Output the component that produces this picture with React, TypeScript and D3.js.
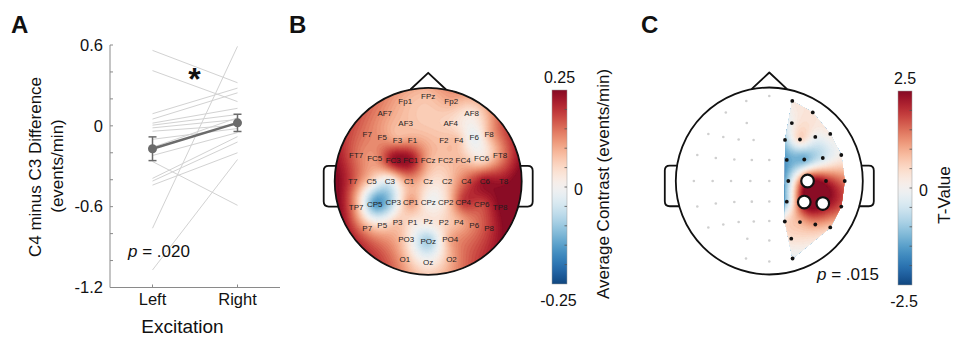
import React, { useMemo } from 'react';
import * as d3 from 'd3';

// ---------- Panel A data ----------
const conditions = ['Left', 'Right'];
const subjectLeft = [0.56, 0.41, 0.09, 0.05, 0.02, 0.005, -0.015, -0.04, -0.10, -0.16, -0.22, -0.265, -0.39, -0.41, -0.44, -0.76, -1.07];
const subjectRight = [0.32, 0.18, 0.28, 0.245, 0.13, 0.084, 0.047, 0.005, -0.02, 0.06, -0.05, -0.59, -0.08, -0.12, -0.2, 0.59, -0.25];
const groupMean = [-0.17, 0.022];
const groupSem = [0.088, 0.064];
const yTickValues = [0.6, 0, -0.6, -1.2];
const yTickLabels = ['0.6', '0', '-0.6', '-1.2'];

// ---------- Electrode layout (head units, radius = 1) ----------
const electrodes = [
  'Fp1', 'FPz', 'Fp2',
  'AF7', 'AF3', 'AF4', 'AF8',
  'F7', 'F5', 'F3', 'F1', 'F2', 'F4', 'F6', 'F8',
  'FT7', 'FC5', 'FC3', 'FC1', 'FCz', 'FC2', 'FC4', 'FC6', 'FT8',
  'T7', 'C5', 'C3', 'C1', 'Cz', 'C2', 'C4', 'C6', 'T8',
  'TP7', 'CP5', 'CP3', 'CP1', 'CPz', 'CP2', 'CP4', 'CP6', 'TP8',
  'P7', 'P5', 'P3', 'P1', 'Pz', 'P2', 'P4', 'P6', 'P8',
  'PO3', 'POz', 'PO4',
  'O1', 'Oz', 'O2',
];
const elecX = [
  -0.246, 0, 0.246,
  -0.465, -0.241, 0.241, 0.465,
  -0.652, -0.492, -0.328, -0.168, 0.168, 0.328, 0.492, 0.652,
  -0.770, -0.572, -0.374, -0.187, 0, 0.187, 0.374, 0.572, 0.770,
  -0.807, -0.606, -0.409, -0.203, 0, 0.203, 0.409, 0.606, 0.807,
  -0.770, -0.572, -0.374, -0.187, 0, 0.187, 0.374, 0.572, 0.770,
  -0.652, -0.492, -0.328, -0.166, 0, 0.166, 0.328, 0.492, 0.652,
  -0.235, 0, 0.235,
  -0.249, 0, 0.249,
];
const elecY = [
  -0.856, -0.909, -0.856,
  -0.733, -0.620, -0.620, -0.733,
  -0.503, -0.471, -0.444, -0.439, -0.439, -0.444, -0.471, -0.503,
  -0.278, -0.246, -0.230, -0.225, -0.225, -0.225, -0.230, -0.246, -0.278,
  0, 0, 0, 0, 0, 0, 0, 0, 0,
  0.273, 0.241, 0.225, 0.221, 0.219, 0.221, 0.225, 0.241, 0.273,
  0.497, 0.465, 0.439, 0.433, 0.428, 0.433, 0.439, 0.465, 0.497,
  0.617, 0.636, 0.617,
  0.829, 0.861, 0.829,
];

// ---------- Panel B data: average contrast (events/min) ----------
const contrastValues = [
  0.09, 0.08, 0.10,
  0.12, 0.08, 0.05, 0.03,
  0.14, 0.12, 0.10, 0.11, 0.08, 0.07, -0.02, 0.09,
  0.15, 0.12, 0.23, 0.23, 0.10, 0.08, 0.08, 0.03, 0.12,
  0.17, 0.05, -0.02, 0.11, 0.05, 0.06, 0.16, 0.23, 0.23,
  0.10, -0.15, -0.06, 0.11, 0.0, 0.04, 0.19, 0.18, 0.25,
  0.10, 0.04, 0.07, 0.03, 0.03, 0.05, 0.09, 0.14, 0.19,
  0.05, -0.09, 0.10,
  0.09, 0.01, 0.10,
];
const contrastRange = [-0.25, 0.25];
const contrastTickLabels = ['-0.25', '0', '0.25'];

// ---------- Panel C data: T-values, right hemisphere ----------
const tElectrodes = [
  'Fp2', 'AF4', 'AF8',
  'F2', 'F4', 'F6', 'F8',
  'FC2', 'FC4', 'FC6', 'FT8',
  'C2', 'C4', 'C6', 'T8',
  'CP2', 'CP4', 'CP6', 'TP8',
  'P2', 'P4', 'P6', 'P8',
  'PO4', 'O2',
];
const tValues = [
  0.2, 0.0, 0.3,
  -0.9, 0.5, -0.1, 0.2,
  -1.5, -1.3, -0.5, 0.1,
  -0.9, 2.3, 2.1, 1.4,
  -0.9, 2.5, 2.5, 1.7,
  0.4, 0.9, 1.1, 0.7,
  0.4, -0.2,
];
const sigElectrodes = ['C4', 'CP4', 'CP6'];
const tRange = [-2.5, 2.5];
const tTickLabels = ['-2.5', '0', '2.5'];

const FONT = "'Liberation Sans', Arial, Helvetica, sans-serif";

// color: t in [-1,1]
const rdbu = (t: number) => d3.interpolateRdBu(0.5 - 0.46 * Math.max(-1, Math.min(1, t)));

function solveLinear(A: number[][], b: number[]): number[] {
  const n = b.length;
  const M = A.map((r, i) => [...r, b[i]]);
  for (let c = 0; c < n; c++) {
    let p = c;
    for (let r = c + 1; r < n; r++) if (Math.abs(M[r][c]) > Math.abs(M[p][c])) p = r;
    const tmp = M[c]; M[c] = M[p]; M[p] = tmp;
    for (let r = c + 1; r < n; r++) {
      const f = M[r][c] / M[c][c];
      if (f === 0) continue;
      for (let k = c; k <= n; k++) M[r][k] -= f * M[c][k];
    }
  }
  const x = new Array(n).fill(0);
  for (let r = n - 1; r >= 0; r--) {
    let s = M[r][n];
    for (let k = r + 1; k < n; k++) s -= M[r][k] * x[k];
    x[r] = s / M[r][r];
  }
  return x;
}

// MATLAB 'v4' biharmonic spline interpolation
function makeV4(xs: number[], ys: number[], vs: number[]) {
  const g = (d: number) => (d === 0 ? 0 : d * d * (Math.log(d) - 1));
  const n = xs.length;
  const A: number[][] = [];
  for (let i = 0; i < n; i++) {
    const row: number[] = [];
    for (let j = 0; j < n; j++) row.push(g(Math.hypot(xs[i] - xs[j], ys[i] - ys[j])));
    A.push(row);
  }
  const w = solveLinear(A, vs);
  return (x: number, y: number) => {
    let s = 0;
    for (let j = 0; j < n; j++) s += w[j] * g(Math.hypot(x - xs[j], y - ys[j]));
    return s;
  };
}

function earPath(cx: number, cy: number, R: number, s: number) {
  const a0 = -0.165, a1 = 0.27;
  const y0 = cy + a0 * R, y1 = cy + a1 * R;
  const xin0 = cx + s * R * Math.sqrt(1 - a0 * a0) - s * 0.5;
  const xin1 = cx + s * R * Math.sqrt(1 - a1 * a1) - s * 0.5;
  const xout = cx + s * (R + 11);
  const r = 5;
  return `M${xin0},${y0} L${xout - s * r},${y0} Q${xout},${y0} ${xout},${y0 + r} L${xout},${y1 - r} Q${xout},${y1} ${xout - s * r},${y1} L${xin1},${y1}`;
}

function HeadOutline({ cx, cy, R }: { cx: number; cy: number; R: number }) {
  const hw = 0.19 * R;
  const by = cy - Math.sqrt(R * R - hw * hw);
  const nose = `M${cx - hw},${by} L${cx},${cy - R - 15} L${cx + hw},${by}`;
  return (
    <g fill="none" stroke="#111" strokeWidth={1.8} strokeLinejoin="round">
      <circle cx={cx} cy={cy} r={R} />
      <path d={nose} />
      <path d={earPath(cx, cy, R, -1)} />
      <path d={earPath(cx, cy, R, 1)} />
    </g>
  );
}

function TopoField({ id, cx, cy, R, xs, ys, vs, range, clip }: any) {
  const n = 150;
  const paths = useMemo(() => {
    const f = makeV4(xs, ys, vs);
    const [lo, hi] = range;
    const vals = new Float64Array(n * n);
    for (let j = 0; j < n; j++) {
      for (let i = 0; i < n; i++) {
        const x = -1 + ((i + 0.5) * 2) / n;
        const y = -1 + ((j + 0.5) * 2) / n;
        let v = f(x, y);
        if (v < lo) v = lo;
        if (v > hi) v = hi;
        vals[i + j * n] = v;
      }
    }
    const levels = 64;
    const step = (hi - lo) / levels;
    const thresholds = d3.range(levels).map((k) => lo + k * step);
    const contours = d3.contours().size([n, n]).thresholds(thresholds)(Array.from(vals));
    const proj = d3.geoIdentity().scale((2 * R) / n).translate([cx - R, cy - R]);
    const gp = d3.geoPath(proj as any);
    return contours.map((c, k) => ({
      d: gp(c as any) || '',
      fill: rdbu((thresholds[k] + step / 2) / hi),
    }));
  }, [cx, cy, R]);
  return (
    <g clipPath={`url(#${id})`}>
      <defs>
        <clipPath id={id}>{clip}</clipPath>
      </defs>
      {paths.map((p, k) => (
        <path key={k} d={p.d} fill={p.fill} stroke={p.fill} strokeWidth={0.3} />
      ))}
    </g>
  );
}

function Colorbar({ id, x, y, w, h, range, labels, title, titleX, titleY }: any) {
  const [lo, hi] = range;
  const sy = d3.scaleLinear().domain([lo, hi]).range([y + h, y]);
  const stops = d3.range(41).map((k) => lo + ((hi - lo) * k) / 40);
  const ticks = d3.ticks(lo, hi, 10).slice(1, -1);
  return (
    <g fontFamily={FONT} fill="#111">
      <defs>
        <linearGradient id={id} x1="0" y1="1" x2="0" y2="0">
          {stops.map((v, k) => (
            <stop key={k} offset={`${(k / 40) * 100}%`} stopColor={rdbu(v / hi)} />
          ))}
        </linearGradient>
      </defs>
      <rect x={x} y={y} width={w} height={h} fill={`url(#${id})`} stroke="#9a9a9a" strokeWidth={0.5} />
      {ticks.map((t: number, k: number) => (
        <line key={k} x1={x + w - 2.5} x2={x + w} y1={sy(t)} y2={sy(t)} stroke="#555" strokeWidth={0.8} />
      ))}
      <text x={x + w / 2} y={y - 7} fontSize={16} textAnchor="middle">{labels[2]}</text>
      <text x={x + w / 2 - 1} y={y + h + 22} fontSize={16} textAnchor="middle">{labels[0]}</text>
      <text x={x + w + 7} y={sy(0) + 8} fontSize={16}>{labels[1]}</text>
      <text transform={`translate(${titleX},${titleY}) rotate(-90)`} fontSize={17} textAnchor="middle">{title}</text>
    </g>
  );
}

function PanelA() {
  const y = d3.scaleLinear().domain([-1.2, 0.6]).range([287.5, 45]);
  const x = d3.scaleLinear().domain([0.5, 2.5]).range([110, 280]);
  const minor = d3.ticks(-1.2, 0.6, 9);
  const axisColor = '#8a8a8a';
  const meanColor = '#6b6b6b';
  const meanLine = d3.line<number>().x((_, i) => x(i + 1)).y((d) => y(d));
  return (
    <g fontFamily={FONT} fill="#111">
      {subjectLeft.map((l, i) => (
        <line key={i} x1={x(1)} y1={y(l)} x2={x(2)} y2={y(subjectRight[i])} stroke="#d2d2d2" strokeWidth={1} />
      ))}
      <line x1={110} x2={110} y1={y(0.6)} y2={y(-1.2)} stroke={axisColor} strokeWidth={1} />
      <line x1={110} x2={280} y1={y(-1.2)} y2={y(-1.2)} stroke={axisColor} strokeWidth={1} />
      {minor.map((t, k) => (
        <line key={k} x1={110} x2={113} y1={y(t)} y2={y(t)} stroke={axisColor} strokeWidth={1} />
      ))}
      {conditions.map((c, i) => (
        <g key={c}>
          <line x1={x(i + 1)} x2={x(i + 1)} y1={y(-1.2)} y2={y(-1.2) - 3} stroke={axisColor} strokeWidth={1} />
          <text x={x(i + 1)} y={305} fontSize={16.5} textAnchor="middle">{c}</text>
        </g>
      ))}
      {yTickValues.map((t, k) => (
        <text key={k} x={103} y={y(t) + 5.8} fontSize={16.5} textAnchor="end">{yTickLabels[k]}</text>
      ))}
      <path d={meanLine(groupMean) || ''} fill="none" stroke={meanColor} strokeWidth={2.5} />
      {groupMean.map((m, i) => (
        <g key={i} stroke={meanColor} strokeWidth={1.5}>
          <line x1={x(i + 1)} x2={x(i + 1)} y1={y(m - groupSem[i])} y2={y(m + groupSem[i])} />
          <line x1={x(i + 1) - 4} x2={x(i + 1) + 4} y1={y(m - groupSem[i])} y2={y(m - groupSem[i])} />
          <line x1={x(i + 1) - 4} x2={x(i + 1) + 4} y1={y(m + groupSem[i])} y2={y(m + groupSem[i])} />
          <circle cx={x(i + 1)} cy={y(m)} r={4.5} fill={meanColor} stroke="none" />
        </g>
      ))}
      <text x={194.5} y={90} fontSize={32} fontWeight="bold" textAnchor="middle">*</text>
      <text x={128} y={257} fontSize={17}><tspan fontStyle="italic">p</tspan> = .020</text>
      <text x={182.5} y={333} fontSize={19} textAnchor="middle">Excitation</text>
      <text transform="translate(41,167) rotate(-90)" fontSize={17} textAnchor="middle">C4 minus C3 Difference</text>
      <text transform="translate(63,166) rotate(-90)" fontSize={17} textAnchor="middle">(events/min)</text>
    </g>
  );
}

function PanelB() {
  const cx = 428.2, cy = 181.3, R = 93.5;
  return (
    <g>
      <TopoField id="clipB" cx={cx} cy={cy} R={R} xs={elecX} ys={elecY} vs={contrastValues} range={contrastRange}
        clip={<circle cx={cx} cy={cy} r={R} />} />
      <HeadOutline cx={cx} cy={cy} R={R} />
      <g fontFamily={FONT} fontSize={8} fill="#1e1e1e" textAnchor="middle">
        {electrodes.map((e, i) => (
          <text key={e} x={cx + elecX[i] * R} y={cy + elecY[i] * R + 2.9}>{e}</text>
        ))}
      </g>
      <Colorbar id="gradB" x={552} y={90} w={15} h={194} range={contrastRange} labels={contrastTickLabels}
        title="Average Contrast (events/min)" titleX={609} titleY={184} />
    </g>
  );
}

function PanelC() {
  const cx = 769.3, cy = 181, R = 93.5;
  const idx = tElectrodes.map((e) => electrodes.indexOf(e));
  const xs = idx.map((i) => elecX[i]);
  const ys = idx.map((i) => elecY[i]);
  const hull = d3.polygonHull(idx.map((i) => [cx + elecX[i] * R, cy + elecY[i] * R] as [number, number])) || [];
  const hullD = 'M' + hull.map((p) => p.join(',')).join('L') + 'Z';
  return (
    <g>
      <TopoField id="clipC" cx={cx} cy={cy} R={R} xs={xs} ys={ys} vs={tValues} range={tRange}
        clip={<path d={hullD} />} />
      <HeadOutline cx={cx} cy={cy} R={R} />
      {electrodes.map((e, i) => {
        const isRight = tElectrodes.includes(e);
        if (sigElectrodes.includes(e)) return null;
        return (
          <circle key={e} cx={cx + elecX[i] * R} cy={cy + elecY[i] * R} r={isRight ? 1.9 : 1.3}
            fill={isRight ? '#111' : '#cfcfcf'} />
        );
      })}
      {sigElectrodes.map((e) => {
        const i = electrodes.indexOf(e);
        return <circle key={e} cx={cx + elecX[i] * R} cy={cy + elecY[i] * R} r={6.3} fill="#fff" stroke="#111" strokeWidth={2.2} />;
      })}
      <text x={817} y={280} fontFamily={FONT} fontSize={17} fill="#111"><tspan fontStyle="italic">p</tspan> = .015</text>
      <Colorbar id="gradC" x={898} y={91} w={14} h={194} range={tRange} labels={tTickLabels}
        title="T-Value" titleX={950} titleY={195} />
    </g>
  );
}

export default function App() {
  return (
    <div style={{ position: 'absolute', left: 0, top: 0 }}>
      <svg width={956} height={343} viewBox="0 0 956 343" style={{ display: 'block', background: '#fff' }}>
        <rect width={956} height={343} fill="#fff" />
        <g fontFamily={FONT} fontWeight="bold" fontSize={24} fill="#111">
          <text x={11} y={33}>A</text>
          <text x={289} y={33}>B</text>
          <text x={641} y={33}>C</text>
        </g>
        <PanelA />
        <PanelB />
        <PanelC />
      </svg>
    </div>
  );
}
